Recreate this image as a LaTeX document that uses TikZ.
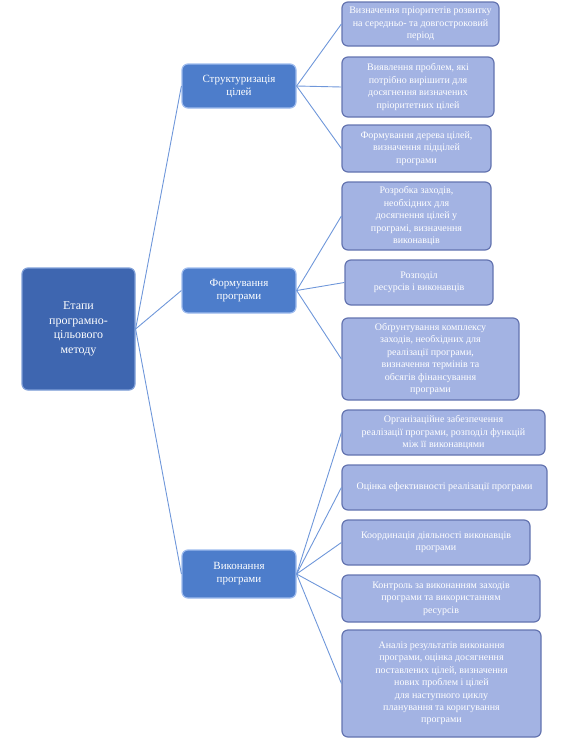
\documentclass[tikz,border=0pt]{standalone}
\usepackage{fontspec}
\setmainfont{Liberation Serif}
\definecolor{rootfill}{HTML}{3E66B0}
\definecolor{rootdraw}{HTML}{7F9FD8}
\definecolor{midfill}{HTML}{4D7DCB}
\definecolor{middraw}{HTML}{9DBBEE}
\definecolor{leaffill}{HTML}{A3B3E3}
\definecolor{leafdraw}{HTML}{6474B0}
\definecolor{linkc}{HTML}{6F97DA}
\begin{document}
\begin{tikzpicture}[x=1pt,y=-1pt,
  box/.style={rounded corners=6pt, line width=1.2pt, text=white, align=center,
    font=\fontsize{10}{12.4}\selectfont, inner sep=2pt},
  rootbox/.style={box, fill=rootfill, draw=rootdraw, font=\fontsize{12}{14.5}\selectfont},
  midbox/.style={box, fill=midfill, draw=middraw, font=\fontsize{11}{13}\selectfont},
  leafbox/.style={box, fill=leaffill, draw=leafdraw},
  link/.style={draw=linkc, line width=0.9pt}]
\useasboundingbox (0,0) rectangle (571,739);
\newcommand{\bx}[7]{% name, style, x1, y1, x2, y2, text
  \node[#2, minimum width=#5-#3, minimum height=#6-#4] (#1) at ({(#3+#5)/2},{(#4+#6)/2}) {#7};}
\bx{root}{rootbox}{22}{268}{135}{390}{Етапи\\програмно-\\цільового\\методу}
\bx{m1}{midbox}{182}{64}{296}{108}{Структуризація\\цілей}
\bx{m2}{midbox}{182}{268}{296}{313}{Формування\\програми}
\bx{m3}{midbox}{182}{550}{296}{598}{Виконання\\програми}
\bx{l1}{leafbox}{342}{2}{499}{46}{Визначення пріоритетів розвитку\\на середньо- та довгостроковий\\період}
\bx{l2}{leafbox}{342}{57}{494}{117}{Виявлення проблем, які\\потрібно вирішити для\\досягнення визначених\\пріоритетних цілей}
\bx{l3}{leafbox}{342}{125}{491}{172}{Формування дерева цілей,\\визначення підцілей\\програми}
\bx{l4}{leafbox}{342}{182}{491}{250}{Розробка заходів,\\необхідних для\\досягнення цілей у\\програмі, визначення\\виконавців}
\bx{l5}{leafbox}{345}{260}{493}{305}{Розподіл\\ресурсів і виконавців}
\bx{l6}{leafbox}{342}{318}{519}{400}{Обґрунтування комплексу\\заходів, необхідних для\\реалізації програми,\\визначення термінів та\\обсягів фінансування\\програми}
\bx{l7}{leafbox}{342}{410}{545}{455}{Організаційне забезпечення\\реалізації програми, розподіл функцій\\між її виконавцями}
\bx{l8}{leafbox}{342}{465}{547}{510}{Оцінка ефективності реалізації програми}
\bx{l9}{leafbox}{342}{520}{530}{565}{Координація діяльності виконавців\\програми}
\bx{l10}{leafbox}{342}{575}{540}{622}{Контроль за виконанням заходів\\програми та використанням\\ресурсів}
\bx{l11}{leafbox}{342}{630}{541}{737}{Аналіз результатів виконання\\програми, оцінка досягнення\\поставлених цілей, визначення\\нових проблем і цілей\\для наступного циклу\\планування та коригування\\програми}
\foreach \m in {m1,m2,m3} \draw[link] (root.east) -- (\m.west);
\foreach \l in {l1,l2,l3} \draw[link] (m1.east) -- (\l.west);
\foreach \l in {l4,l5,l6} \draw[link] (m2.east) -- (\l.west);
\foreach \l in {l7,l8,l9,l10,l11} \draw[link] (m3.east) -- (\l.west);
\end{tikzpicture}
\end{document}
